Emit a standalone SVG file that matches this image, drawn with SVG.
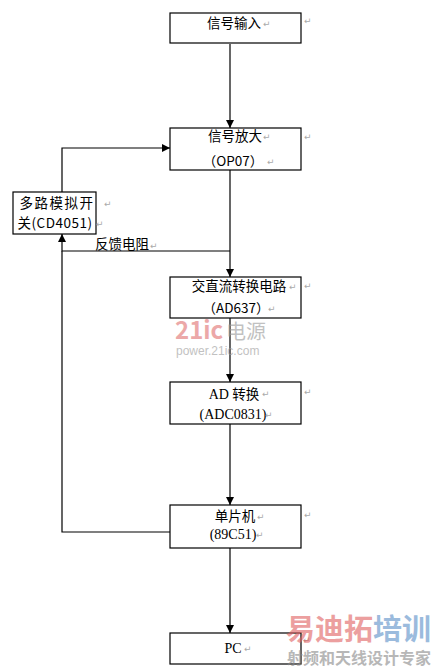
<svg xmlns="http://www.w3.org/2000/svg" width="442" height="669" viewBox="0 0 442 669">
<style>
.box{fill:#fff;stroke:#000;stroke-width:1.2}
.ln{fill:none;stroke:#000;stroke-width:1.2}
.cn{font-family:"Noto Sans CJK SC","Liberation Sans",sans-serif;font-size:13.5px;fill:#000;text-anchor:middle}
.se{font-family:"Liberation Serif","Noto Sans CJK SC",serif;font-size:14px;fill:#000;text-anchor:middle}
.pm{font-family:"DejaVu Sans",sans-serif;font-size:9px;fill:#aaa}
.wm{font-family:"Noto Sans CJK SC","Liberation Sans",sans-serif;font-weight:bold}
</style>
<defs>
<marker id="ah" viewBox="0 0 10 10" refX="10" refY="5" markerWidth="8" markerHeight="8" markerUnits="userSpaceOnUse" orient="auto">
<path d="M0,0 L10,5 L0,10 z" fill="#000"/>
</marker>
</defs>
<rect width="442" height="669" fill="#fff"/>

<g id="connectors">
<line class="ln" x1="230" y1="44" x2="230" y2="128" marker-end="url(#ah)"/>
<polyline class="ln" points="230,170 230,277" marker-end="url(#ah)"/>
<polyline class="ln" points="230,251 62,251 62,234" marker-end="url(#ah)"/>
<polyline class="ln" points="62,192 62,148 170,148" marker-end="url(#ah)"/>
<line class="ln" x1="230" y1="318" x2="230" y2="382" marker-end="url(#ah)"/>
<line class="ln" x1="230" y1="424" x2="230" y2="505" marker-end="url(#ah)"/>
<polyline class="ln" points="170,532 62,532 62,251"/>
<line class="ln" x1="230" y1="548" x2="230" y2="633" marker-end="url(#ah)"/>
<text class="cn" x="122" y="249">反馈电阻</text>
<text class="pm" x="150" y="249">↵</text>
</g>

<g id="n1">
<rect class="box" x="170" y="13" width="131" height="30"/>
<text class="cn" x="234" y="28">信号输入</text>
<text class="pm" x="263" y="27">↵</text>
<text class="pm" x="304" y="24">↵</text>
</g>

<g id="n2">
<rect class="box" x="170" y="128" width="131" height="42"/>
<text class="cn" x="235" y="141">信号放大</text>
<text class="cn" x="233" y="166">（OP07）</text>
<text class="pm" x="263" y="140">↵</text>
<text class="pm" x="267" y="165">↵</text>
<text class="pm" x="304" y="140">↵</text>
</g>

<g id="n_mux">
<rect class="box" x="13" y="192" width="83" height="42"/>
<text class="cn" x="57" y="208" letter-spacing="1.5">多路模拟开</text>
<text class="cn" x="55" y="228" letter-spacing="0.5">关(CD4051)</text>
<text class="pm" x="104" y="207">↵</text>
<text class="pm" x="96" y="227">↵</text>
</g>

<g id="n3">
<rect class="box" x="170" y="277" width="131" height="41"/>
<text class="cn" x="239" y="291">交直流转换电路</text>
<text class="cn" x="236" y="313">（AD637）</text>
<text class="pm" x="289" y="290">↵</text>
<text class="pm" x="304" y="289">↵</text>
<text class="pm" x="268" y="312">↵</text>
</g>

<g id="n4">
<rect class="box" x="170" y="382" width="131" height="42"/>
<text class="se" x="234" y="399">AD <tspan font-family="Noto Sans CJK SC,sans-serif" font-size="13.5">转换</tspan></text>
<text class="se" x="233" y="419">(ADC0831)</text>
<text class="pm" x="262" y="397">↵</text>
<text class="pm" x="304" y="395">↵</text>
<text class="pm" x="265" y="418">↵</text>
</g>

<g id="n5">
<rect class="box" x="170" y="505" width="131" height="43"/>
<text class="cn" x="235" y="521">单片机</text>
<text class="se" x="233" y="539">(89C51)</text>
<text class="pm" x="257" y="520">↵</text>
<text class="pm" x="304" y="518">↵</text>
<text class="pm" x="256" y="538">↵</text>
</g>

<g id="n6">
<rect class="box" x="170" y="633" width="131" height="31"/>
<text class="se" x="233" y="653">PC</text>
<text class="pm" x="244" y="652">↵</text>
<text class="pm" x="303" y="643">↵</text>
</g>

<g id="watermarks" opacity="0.6">
<text x="175" y="339" class="wm" font-size="24" fill="#e07070" font-family="Liberation Sans,sans-serif">21ic</text>
<text x="226" y="339" font-family="Noto Sans CJK SC,sans-serif" font-size="20" fill="#999">电源</text>
<text x="176" y="355" font-family="Liberation Sans,sans-serif" font-size="12" fill="#999">power.21ic.com</text>
<text x="286" y="640" class="wm" font-size="29" fill="#e06060">易迪拓<tspan fill="#5a8fc8">培训</tspan></text>
<text x="287" y="664" class="wm" font-size="16" fill="#888">射频和天线设计专家</text>
</g>
</svg>
